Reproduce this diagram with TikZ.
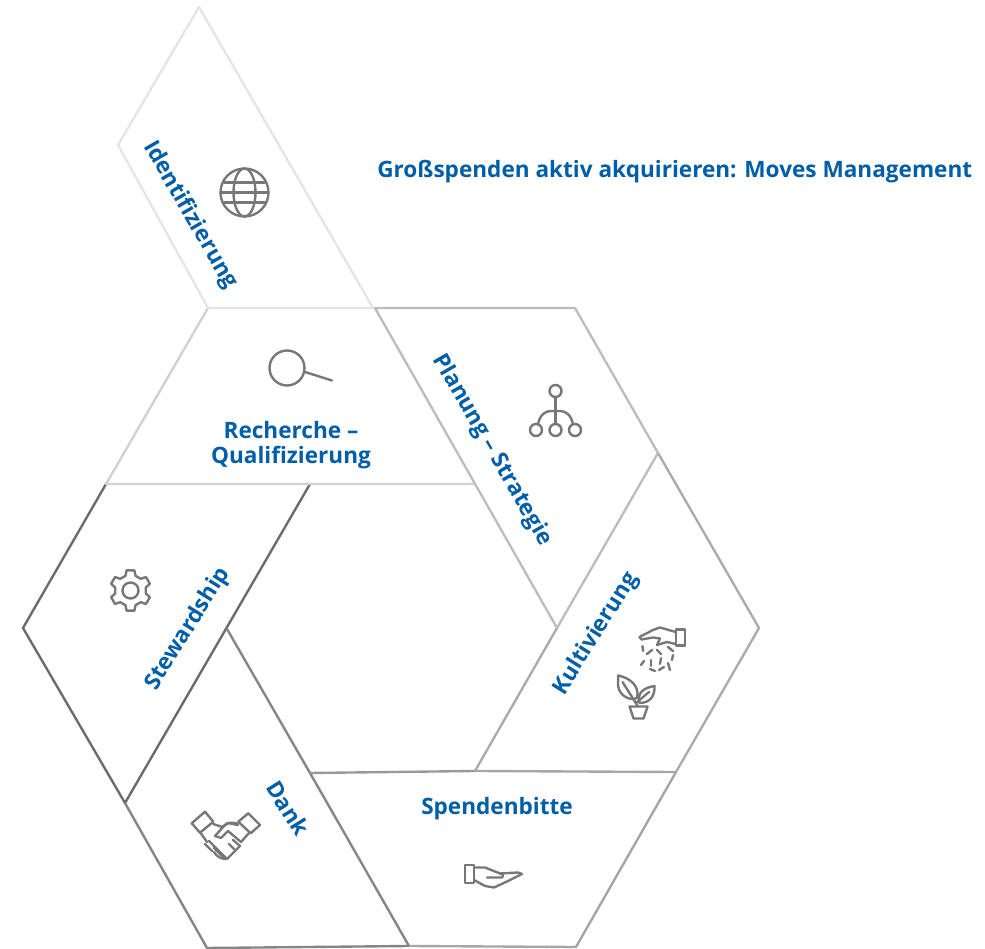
\documentclass[tikz,border=0pt]{standalone}
\usepackage{fontspec}
\setmainfont{Open Sans}
\definecolor{labelblue}{HTML}{005EA8}
\definecolor{icongray}{HTML}{77777A}
\begin{document}
\begin{tikzpicture}[x=0.02cm,y=-0.02cm]
    \tikzstyle{segment}=[line width=1.35pt, line join=round]
    \tikzstyle{label}=[text=labelblue, font=\bfseries\fontsize{12.85}{14}\selectfont, align=center, inner sep=0pt]
    \tikzstyle{icon}=[draw=icongray, line width=1.35pt, line join=round, line cap=round]

    \useasboundingbox (0,0) rectangle (985,949);

    % Draw hexagon segments, darkest first
    \draw[segment, draw=black!58] (106,484) -- (23,628) -- (125,803) -- (310,484);
    \draw[segment, draw=black!48] (227,629) -- (310,773) -- (409,946) -- (207,948) -- (125,803);
    \draw[segment, draw=black!40] (310,773) -- (475,771);
    \draw[segment, draw=black!35] (475,771) -- (676,772) -- (576,947) -- (409,946);
    \draw[segment, draw=black!33] (658,453) -- (759,628) -- (676,772);
    \draw[segment, draw=black!33] (557,628) -- (475,771);
    \draw[segment, draw=black!26] (375,308) -- (575,308) -- (658,453) -- (557,628) -- cycle;
    \draw[segment, draw=black!18] (208,308) -- (373,308);
    \draw[segment, draw=black!18] (208,308) -- (106,484) -- (474.5,484);
    \draw[segment, draw=black!10] (199,7) -- (118,145) -- (208,308) -- (373,308) -- cycle;

    % Add segment labels
    \node[label, anchor=west] (title) at (377,172) {Großspenden aktiv akquirieren: Moves Management};
    \node[label, rotate=-60] (identifizierung) at (190,215) {Identifizierung};
    \node[label] (recherche) at (291,445) {Recherche –\\Qualifizierung};
    \node[label, rotate=-60] (planung) at (492,450) {Planung – Strategie};
    \node[label, rotate=58] (kultivierung) at (596,634) {Kultivierung};
    \node[label] (spendenbitte) at (497,809) {Spendenbitte};
    \node[label, rotate=-58] (dank) at (288,808) {Dank};
    \node[label, rotate=58] (stewardship) at (188,629) {Stewardship};

    % Globe
    \draw[icon] (244.5,192.5) circle [radius=24];
    \draw[icon] (244.5,192.5) ellipse [x radius=11, y radius=24];
    \draw[icon] (220.5,192.5) -- (268.5,192.5);
    \draw[icon] (224,182.5) -- (265,182.5);
    \draw[icon] (224,202.5) -- (265,202.5);

    % Magnifier
    \draw[icon] (287,368) circle [radius=17.5];
    \draw[icon] (305,372) -- (332,380.5);

    % Tree
    \draw[icon] (555.5,391) circle [radius=6];
    \foreach \x in {536,555.5,575} {
        \draw[icon] (\x,430) circle [radius=6];
    }
    \draw[icon] (555.5,397) -- (555.5,424);
    \draw[icon] (538,424) .. controls (540,415) and (545,411) .. (551,411) -- (560,411) .. controls (566,411) and (571,415) .. (573,424);

    % Gear
    \begin{scope}[shift={(130.5,590.5)}]
        \draw[icon] (79:20.5) \foreach \a in {90,150,210,270,330,390} {
            -- ({\a-11}:20.5) -- ({\a+11}:20.5) -- ({\a+19}:15.5) -- ({\a+41}:15.5)
        } -- cycle;
        \draw[icon] (0,0) circle [radius=8];
    \end{scope}

    % Handshake
    \draw[icon] (191.7,823.3) -- (205,811.7) -- (213.3,821.7) -- (200,832.7) -- cycle;
    \draw[icon] (238.3,821.7) -- (248.3,813.3) -- (260,825) -- (250.7,833.3) -- cycle;
    \draw[icon] (213.3,824) -- (222,827) -- (228,823) -- (238,825);
    \draw[icon] (238,824) .. controls (232,822) and (228,822) .. (224,826) -- (215,836) -- (221,838) -- (228,831) -- (241,842) -- (249,833);
    \draw[icon] (200,832) -- (207,842);
    \foreach \x/\y/\u/\v in {205/844/212/851, 209/841/219/851, 214/848/223/857, 220/852/227/859, 229/844/235/850, 233/840/240/846} {
        \draw[icon] (\x,\y) -- (\u,\v);
    }
    \draw[icon] (214,852) .. controls (217,857) and (221,859) .. (227,859) -- (240,846);

    % Hand
    \draw[icon] (465,865) rectangle (474,883);
    \draw[icon] (474,867.5) -- (485,867.5) -- (500,873.5) -- (518,872.5) -- (522,874) -- (507,881.5) -- (494,887.5) -- (485,886) -- (474,880);
    \draw[icon] (487,877.5) -- (502,877.5) .. controls (504,875) and (503,874) .. (500,873.5);

    % Watering hand
    \draw[icon] (675.7,629.5) rectangle (685,645.5);
    \draw[icon] (675.7,632) -- (660,627.5) -- (653,630) -- (639.5,637) -- (641.5,639.5) -- (653,637.5) -- (660,638.5) -- (657,645) -- (667,642) -- (675.7,644);
    \foreach \x/\y/\u/\v in {642.5/646/643/651, 647/654/652/650, 657/650/661/654, 668/647/673/651, 673/655/672/660, 661/658/660/664, 651/660/651/666, 641/665/644/661, 650/669/655/671, 659/670/664/667, 668/663/670/670} {
        \draw[icon] (\x,\y) -- (\u,\v);
    }

    % Plant
    \draw[icon] (629.5,706.5) -- (647.5,706.5) -- (643.5,718.5) -- (633.5,718.5) -- cycle;
    \draw[icon] (618.3,675.5) .. controls (630,678) and (640,686) .. (637,698) .. controls (628,702) and (617,693) .. (618,683) -- cycle;
    \draw[icon] (622.5,682) -- (638,706.5);
    \draw[icon] (654.5,686) .. controls (642,688) and (637,694) .. (639.5,703) .. controls (650,703) and (655,696) .. cycle;
    \draw[icon] (649,692) -- (636,703);
\end{tikzpicture}
\end{document}
